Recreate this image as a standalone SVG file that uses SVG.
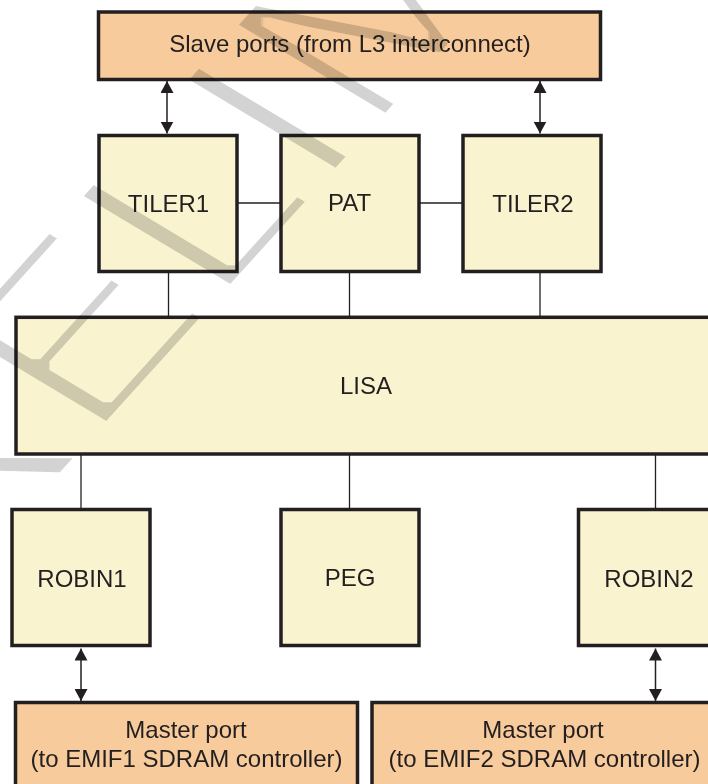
<svg xmlns="http://www.w3.org/2000/svg" width="708" height="784" viewBox="0 0 708 784">
<style>
.box{fill:#f9f3d0;stroke:#231f20;stroke-width:3.5}
.port{fill:#f7cb9b;stroke:#231f20;stroke-width:3.5}
.lbl{font-family:"Liberation Sans",Arial,sans-serif;font-size:24px;fill:#231f20;text-anchor:middle}
.ln{stroke:#231f20;stroke-width:1.3;fill:none}
.arr{stroke:#231f20;stroke-width:1.5;fill:none;marker-start:url(#ah);marker-end:url(#ah)}
.wm{font-family:"Liberation Sans",Arial,sans-serif;font-size:100px;fill:#d3d3d3}
</style>
<defs>
<marker id="ah" viewBox="0 0 12 13" refX="12" refY="6.5" markerWidth="12" markerHeight="13" markerUnits="userSpaceOnUse" orient="auto-start-reverse">
<path d="M0,0 L12,6.5 L0,13 z" fill="#231f20"/>
</marker>
<filter id="thin" x="-20%" y="-20%" width="140%" height="140%">
<feMorphology operator="erode" radius="3.5"/>
</filter>
</defs>
<rect width="708" height="784" fill="#ffffff"/>
<g id="connectors">
<line class="arr" x1="167" y1="81" x2="167" y2="133.5"/>
<line class="arr" x1="540" y1="81" x2="540" y2="133.5"/>
<line class="ln" x1="237" y1="203" x2="280" y2="203"/>
<line class="ln" x1="419" y1="203" x2="462" y2="203"/>
<line class="ln" x1="168.5" y1="272" x2="168.5" y2="317"/>
<line class="ln" x1="349.5" y1="272" x2="349.5" y2="317"/>
<line class="ln" x1="540" y1="272" x2="540" y2="317"/>
<line class="ln" x1="81" y1="454" x2="81" y2="509"/>
<line class="ln" x1="349.5" y1="454" x2="349.5" y2="509"/>
<line class="ln" x1="655.5" y1="454" x2="655.5" y2="509"/>
<line class="arr" x1="81" y1="648.5" x2="81" y2="701"/>
<line class="arr" x1="655.5" y1="648.5" x2="655.5" y2="701"/>
</g>
<g id="slave">
<rect class="port" x="98.5" y="12" width="502" height="67.5"/>
<text class="lbl" x="350" y="51.5">Slave ports (from L3 interconnect)</text>
</g>
<g id="tiler1">
<rect class="box" x="99" y="135.5" width="138" height="136"/>
<text class="lbl" x="168.5" y="212">TILER1</text>
</g>
<g id="pat">
<rect class="box" x="281" y="135.5" width="138" height="136"/>
<text class="lbl" x="349.5" y="211">PAT</text>
</g>
<g id="tiler2">
<rect class="box" x="463" y="135.5" width="138" height="136"/>
<text class="lbl" x="533" y="212">TILER2</text>
</g>
<g id="lisa">
<rect class="box" x="16" y="317.3" width="706" height="136.7"/>
<text class="lbl" x="366" y="393.5">LISA</text>
</g>
<g id="robin1">
<rect class="box" x="12" y="509.5" width="138" height="136"/>
<text class="lbl" x="82" y="586.5">ROBIN1</text>
</g>
<g id="peg">
<rect class="box" x="281" y="509.5" width="138" height="136"/>
<text class="lbl" x="350" y="585.5">PEG</text>
</g>
<g id="robin2">
<rect class="box" x="578.5" y="509.5" width="138" height="136"/>
<text class="lbl" x="649" y="586.5">ROBIN2</text>
</g>
<g id="master1">
<rect class="port" x="15.5" y="702.5" width="342" height="100"/>
<text class="lbl" x="186" y="738">Master port</text>
<text class="lbl" x="186.5" y="767">(to EMIF1 SDRAM controller)</text>
</g>
<g id="master2">
<rect class="port" x="372" y="702.5" width="342" height="100"/>
<text class="lbl" x="543" y="738">Master port</text>
<text class="lbl" x="544.5" y="767">(to EMIF2 SDRAM controller)</text>
</g>
<g id="watermark" style="mix-blend-mode:multiply" filter="url(#thin)">
<text class="wm" transform="matrix(1.859,-2.053,2.271,1.365,-166,730)" x="0" y="0">PRELIMINARY</text>
</g>
</svg>
